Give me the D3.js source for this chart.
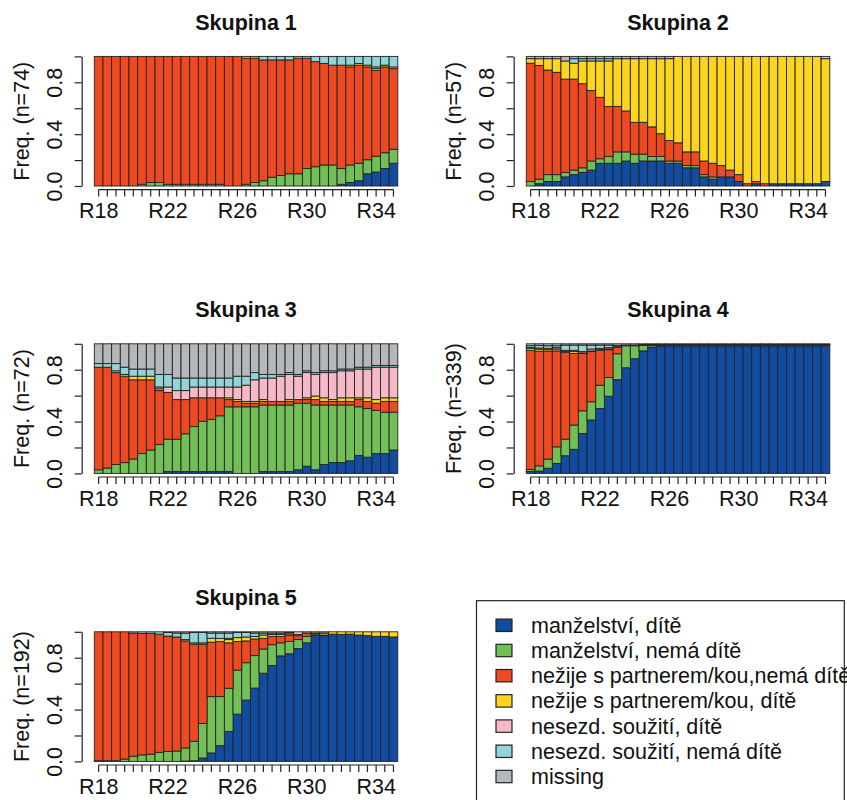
<!DOCTYPE html>
<html>
<head>
<meta charset="utf-8">
<script src="https://cdn.jsdelivr.net/npm/d3@7"></script>
<style>
  body { margin: 0; background: #fff; }
  text { font-family: "Liberation Sans", Arial, Helvetica, sans-serif; fill: #111; }
</style>
</head>
<body>
<svg id="chart" width="847" height="800"></svg>
<script>
// time points (half-year steps), only every 8th gets a label
const periods = ["R18","R18.5","R19","R19.5","R20","R20.5","R21","R21.5","R22","R22.5",
  "R23","R23.5","R24","R24.5","R25","R25.5","R26","R26.5","R27","R27.5",
  "R28","R28.5","R29","R29.5","R30","R30.5","R31","R31.5","R32","R32.5",
  "R33","R33.5","R34","R34.5","R35"];
const tickLabels = ["R18", "R22", "R26", "R30", "R34"];

const stateLabels = ["manželství, dítě", "manželství, nemá dítě", "nežije s partnerem/kou,nemá dítě",
  "nežije s partnerem/kou, dítě", "nesezd. soužití, dítě", "nesezd. soužití, nemá dítě", "missing"];
const stateColors = ["#124ca0", "#72bf58", "#ee4a22", "#fcd51e", "#f6b9c9", "#93d4d6", "#b4b8bb"];

// Skupina 1 (n=74), counts per state
const s1Blue   = [0,0,0,0,0,0,0,0,0,0,0,0,0,0,0,0,0,0,0,0,0,0,0,0,0,0,0,0,1,2,3,7,8,10,13];
const s1Green  = [0,0,0,0,0,1,2,2,1,1,1,1,1,1,1,0,0,1,2,3,5,6,7,7,10,11,12,12,9,10,10,8,9,9,8];
const s1Red    = [74,74,74,74,74,73,72,72,73,73,73,73,73,73,73,74,74,72,71,69,67,66,65,66,63,60,58,57,59,56,56,53,49,49,46];
const s1Yellow = [0,0,0,0,0,0,0,0,0,0,0,0,0,0,0,0,0,1,1,0,0,0,0,1,1,0,0,0,0,1,1,1,1,1,1];
const s1Pink   = [0,0,0,0,0,0,0,0,0,0,0,0,0,0,0,0,0,0,0,0,0,0,0,0,0,0,0,0,0,0,0,0,1,0,0];
const s1Cyan   = [0,0,0,0,0,0,0,0,0,0,0,0,0,0,0,0,0,0,0,2,2,2,2,0,0,3,4,5,5,5,4,5,6,5,6];
const s1Miss   = [0,0,0,0,0,0,0,0,0,0,0,0,0,0,0,0,0,0,0,0,0,0,0,0,0,0,0,0,0,0,0,0,0,0,0];

// Skupina 2 (n=57)
const s2Blue   = [0,1,2,2,4,5,6,7,10,10,10,11,10,11,11,11,10,10,8,8,4,3,4,4,2,0,1,0,1,1,1,1,1,1,2];
const s2Green  = [2,2,3,3,2,2,2,4,2,3,5,4,4,3,2,2,1,1,1,1,1,1,0,0,0,0,0,0,0,0,0,0,0,0,0];
const s2Red    = [52,50,46,45,41,40,37,31,27,22,20,18,14,14,13,10,9,8,6,6,6,6,5,3,3,1,1,1,0,0,0,0,0,0,0];
const s2Yellow = [2,3,5,6,8,7,10,13,16,20,21,23,28,28,30,33,36,38,42,42,46,47,48,50,52,56,55,56,56,56,56,56,56,56,54];
const s2Pink   = [0,0,0,0,0,0,0,0,0,0,0,0,0,0,0,0,0,0,0,0,0,0,0,0,0,0,0,0,0,0,0,0,0,0,1];
const s2Cyan   = [0,0,0,0,0,2,1,1,1,1,0,0,0,0,0,0,0,0,0,0,0,0,0,0,0,0,0,0,0,0,0,0,0,0,0];
const s2Miss   = [1,1,1,1,2,1,1,1,1,1,1,1,1,1,1,1,1,0,0,0,0,0,0,0,0,0,0,0,0,0,0,0,0,0,0];

// Skupina 3 (n=72)
const s3Blue   = [0,0,0,0,0,0,0,0,1,1,1,1,1,1,1,1,0,0,0,1,1,1,1,2,4,2,5,6,6,7,10,9,11,11,13];
const s3Green  = [2,3,5,6,8,11,13,16,18,18,21,25,28,29,31,36,37,37,37,37,37,37,37,37,35,36,33,32,32,31,27,27,24,23,21];
const s3Red    = [57,56,51,48,44,41,39,30,26,22,19,16,13,12,10,4,3,2,2,2,2,2,2,2,2,3,2,2,2,2,4,4,4,6,6];
const s3Yellow = [0,0,1,1,2,2,2,1,0,0,0,0,0,0,0,1,1,1,1,1,0,0,1,0,1,2,2,1,2,2,1,2,2,2,2];
const s3Pink   = [0,0,0,0,0,0,0,1,3,5,5,6,6,6,6,6,7,9,12,12,13,14,14,13,14,12,14,15,15,15,16,16,18,17,17];
const s3Cyan   = [2,2,4,4,4,4,4,7,7,7,7,5,5,5,5,5,6,5,4,2,2,1,1,1,1,1,1,1,1,1,1,1,1,1,1];
const s3Miss   = [11,11,11,13,14,14,14,17,17,19,19,19,19,19,19,19,18,18,16,17,17,17,16,17,15,16,15,15,14,14,13,13,12,12,12];

// Skupina 4 (n=339), percent
const s4Blue   = [1.5,1.8,4,7.7,13.6,18.5,30.7,41,50,59.5,72.3,81.5,88.5,94.5,97.5,98,98.5,98.5,98.5,98.5,98.5,98.5,98.5,98.5,98.5,98.5,98.5,98.5,98.5,98.5,98.5,98.5,98.5,98.5,98.5];
const s4Green  = [1.5,4,7,12.8,12.8,18.7,17.4,14,18,14.4,20,17,10,4.3,1.3,0.8,0.5,0.5,0.5,0.5,0.5,0.5,0.5,0.5,0.5,0.5,0.5,0.5,0.5,0.5,0.5,0.5,0.5,0.5,0.5];
const s4Red    = [92,88.5,83,74,67,55,44,38.5,27,21.5,5,0,0,0,0,0,0,0,0,0,0,0,0,0,0,0,0,0,0,0,0,0,0,0,0];
const s4Yellow = [1.5,1.5,1.2,1.5,0.5,1.5,0.5,0.5,0.5,0.5,0.5,0,0,0,0,0,0.5,0.5,0.5,0.5,0.5,0.5,0.5,0.5,0.5,0.5,0.5,0.5,0.5,0.5,0.5,0.5,0.5,0.5,0.5];
const s4Pink   = [0.5,1,1,1,1,1,1,1.5,1,1,1,0.5,0.5,0.5,0.5,0.5,0,0,0,0,0,0,0,0,0,0,0,0,0,0,0,0,0,0,0];
const s4Cyan   = [1.5,2,2,1.5,4,4,5,3,2.5,2,0,0,0,0,0,0,0,0,0,0,0,0,0,0,0,0,0,0,0,0,0,0,0,0,0];
const s4Miss   = [1.5,1.2,1.5,1.5,1,1,1,1,1,1,1.2,1,1,0.7,0.7,0.7,0.5,0.5,0.5,0.5,0.5,0.5,0.5,0.5,0.5,0.5,0.5,0.5,0.5,0.5,0.5,0.5,0.5,0.5,0.5];

// Skupina 5 (n=192), percent
const s5Blue   = [0,0,0,0,0,0,0,0,0,0,0.3,0.5,2.6,6.5,12,23,36.4,47,56.4,67.5,73.6,81,83,87,91,97.5,96.7,97.5,97.5,98.2,97.5,97,96.5,96.5,96];
const s5Green  = [0.5,0.5,0.5,1.8,4,5,5.5,7,7.7,8,10,15,26.5,43.5,37.5,33.3,34,28.7,25,18.5,16,10,9.5,7,5,1,0.5,0,0,0,0,0,0,0,0];
const s5Red    = [99.5,99.5,99.5,98.2,95,93.5,93,91,89,87.7,82,74.5,61,42,42,35,22,16.7,12.8,8.2,6.4,5,5,3,2.5,0.5,0,0,0,0,0,0,0,0,0];
const s5Yellow = [0,0,0,0,0,0,0,0,0,0,1,1,1,3,2.5,2.5,3,3,2,2.5,1.5,1.5,1,1,0,1,1.5,1.8,2,1.8,2.5,3,3.5,3.5,4];
const s5Pink   = [0,0,0,0,0,0,0,0,0,0,0,0,0,0,0,1,0,0,0,0,0,1,1,2,0,0,0,0,0,0,0,0,0,0,0];
const s5Cyan   = [0,0,0,0,1,1.2,1.2,1.8,2.8,3,5,8,8,4,4,4,4,3.5,2.5,1.5,1,0,0,0,0,0,0,0,0,0,0,0,0,0,0];
const s5Miss   = [0,0,0,0,0,0,0,0,0.5,1,1,0.5,0.5,1,1,1,0.5,0.5,1,1,1,1,0.5,0,1,0,1,0,0,0,0,0,0,0,0];

const panels = [
  { title: "Skupina 1", n: 74,  col: 0, row: 0, series: [s1Blue, s1Green, s1Red, s1Yellow, s1Pink, s1Cyan, s1Miss] },
  { title: "Skupina 2", n: 57,  col: 1, row: 0, series: [s2Blue, s2Green, s2Red, s2Yellow, s2Pink, s2Cyan, s2Miss] },
  { title: "Skupina 3", n: 72,  col: 0, row: 1, series: [s3Blue, s3Green, s3Red, s3Yellow, s3Pink, s3Cyan, s3Miss] },
  { title: "Skupina 4", n: 339, col: 1, row: 1, series: [s4Blue, s4Green, s4Red, s4Yellow, s4Pink, s4Cyan, s4Miss] },
  { title: "Skupina 5", n: 192, col: 0, row: 2, series: [s5Blue, s5Green, s5Red, s5Yellow, s5Pink, s5Cyan, s5Miss] }
];

const svg = d3.select("#chart");
const plotW = 303.5, plotH = 129.6;
const colX = [94.3, 526.3];
const rowY = [56.4, 343.8, 631.8];
const keys = d3.range(stateLabels.length);
const fontSize = "21.5px";

panels.forEach(p => {
  const x0 = colX[p.col], y0 = rowY[p.row];
  const x = d3.scaleBand().domain(periods).range([x0, x0 + plotW]).padding(0);
  const y = d3.scaleLinear().domain([0, 1]).range([y0 + plotH, y0]);
  const g = svg.append("g");

  const rows = periods.map((per, i) => {
    const r = { period: per };
    p.series.forEach((s, k) => r[k] = s[i]);
    return r;
  });
  const stacked = d3.stack().keys(keys).offset(d3.stackOffsetExpand)(rows);

  g.selectAll("g.layer")
    .data(stacked)
    .enter()
    .append("g")
    .attr("fill", d => stateColors[d.key])
    .selectAll("rect")
    .data(d => d.filter(v => v[1] - v[0] > 0))
    .enter()
    .append("rect")
    .attr("x", d => x(d.data.period))
    .attr("width", x.bandwidth())
    .attr("y", d => y(d[1]))
    .attr("height", d => y(d[0]) - y(d[1]))
    .attr("stroke", "#222")
    .attr("stroke-width", 0.9);

  // y axis, R style
  const axisX = x0 - 12.6;
  const yAxis = g.append("g")
    .attr("transform", `translate(${axisX},0)`)
    .call(d3.axisLeft(y).tickValues([0, 0.2, 0.4, 0.6, 0.8, 1]).tickSize(7).tickSizeOuter(0)
      .tickFormat(d => [0, 0.4, 0.8].includes(d) ? d3.format(".1f")(d) : ""));
  yAxis.select(".domain").attr("stroke", "#222").attr("stroke-width", 1.2);
  yAxis.selectAll(".tick line").attr("stroke", "#222").attr("stroke-width", 1.2);
  yAxis.selectAll(".tick text")
    .attr("transform", "rotate(-90)")
    .attr("x", 0).attr("y", -20).attr("dy", 0)
    .attr("text-anchor", "middle")
    .style("font-size", fontSize).style("font-family", "Liberation Sans, Arial, sans-serif").attr("fill", "#111");

  // x axis
  const axisY = y0 + plotH + 3.6;
  const xAxis = g.append("g")
    .attr("transform", `translate(0,${axisY})`)
    .call(d3.axisBottom(x).tickSize(7).tickSizeOuter(0)
      .tickFormat(d => tickLabels.includes(d) ? d : ""));
  xAxis.select(".domain").remove();
  xAxis.append("line")
    .attr("x1", x(periods[0]) + x.bandwidth() / 2)
    .attr("x2", x(periods[periods.length - 1]) + x.bandwidth() / 2)
    .attr("stroke", "#222").attr("stroke-width", 1.2);
  xAxis.selectAll(".tick line").attr("stroke", "#222").attr("stroke-width", 1.2);
  xAxis.selectAll(".tick text")
    .attr("y", 28.7).attr("dy", 0)
    .style("font-size", fontSize).style("font-family", "Liberation Sans, Arial, sans-serif").attr("fill", "#111");

  // y label
  g.append("text")
    .attr("transform", `translate(${x0 - 65.8},${y0 + plotH / 2}) rotate(-90)`)
    .attr("text-anchor", "middle")
    .style("font-size", fontSize)
    .text(`Freq. (n=${p.n})`);

  // title
  g.append("text")
    .attr("x", x0 + plotW / 2)
    .attr("y", y0 - 26.5)
    .attr("text-anchor", "middle")
    .style("font-size", fontSize).style("font-weight", "bold")
    .text(p.title);
});

// legend
const leg = svg.append("g");
leg.append("rect")
  .attr("x", 476.5).attr("y", 600.7).attr("width", 367.8).attr("height", 230)
  .attr("fill", "none").attr("stroke", "#222").attr("stroke-width", 1.2);
const legY = d3.scalePoint().domain(keys).range([625.3, 776.5]);
keys.forEach(k => {
  leg.append("rect")
    .attr("x", 496).attr("y", legY(k) - 6.2).attr("width", 16).attr("height", 12.4)
    .attr("fill", stateColors[k]).attr("stroke", "#222").attr("stroke-width", 1.2);
  leg.append("text")
    .attr("x", 531).attr("y", legY(k) + 7.5)
    .style("font-size", fontSize)
    .text(stateLabels[k]);
});
</script>
</body>
</html>
